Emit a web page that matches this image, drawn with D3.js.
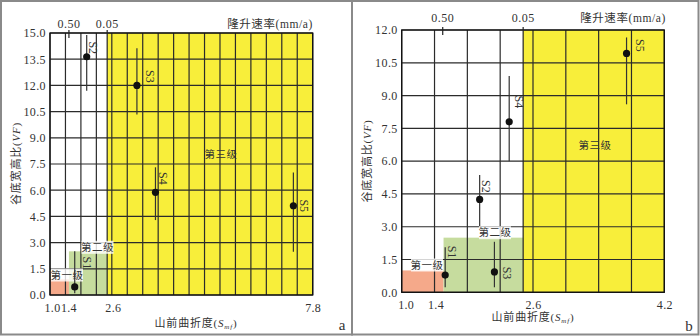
<!DOCTYPE html>
<html><head><meta charset="utf-8">
<script src="https://cdn.jsdelivr.net/npm/d3@7"></script>
<style>
html,body{margin:0;padding:0;background:#fff;}
svg{display:block;}
text{font-family:"Liberation Serif","Times New Roman","Noto Sans CJK SC",serif;fill:#333;}
.cjk{font-family:"Liberation Serif","Noto Sans CJK SC",serif;}
</style></head>
<body>
<script>
// ---------- DATA ----------
const sites = ["S1", "S2", "S3", "S4", "S5"];
const zoneNames = ["第一级", "第二级", "第三级"];
const upliftLabels = ["0.50", "0.05"];

// panel a
const xTicksA = [1.0, 1.4, 2.6, 7.8];
const yTicksA = [0, 1.5, 3.0, 4.5, 6.0, 7.5, 9.0, 10.5, 12.0, 13.5, 15.0];
const smfA = [1.64, 1.95, 3.25, 3.73, 7.30];
const vfA = [0.46, 13.64, 12.0, 5.88, 5.11];
const vfLowA = [0.1, 11.7, 10.34, 4.29, 2.48];
const vfHighA = [2.5, 14.88, 14.12, 7.31, 7.02];
const upliftSmfA = [1.49, 2.48];
const zoneSmfA = [[1.0, 1.49], [1.49, 2.48], [2.48, 7.8]];
const zoneVfA = [0.9, 2.5, 15.0];

// panel b
const xTicksB = [1.0, 1.4, 2.6, 4.2];
const yTicksB = [0, 1.5, 3.0, 4.5, 6.0, 7.5, 9.0, 10.5, 12.0];
const smfB = [1.53, 1.95, 2.13, 2.31, 3.74];
const vfB = [0.79, 4.25, 0.93, 7.80, 10.93];
const vfLowB = [0.23, 3.03, 0.23, 6.0, 8.6];
const vfHighB = [2.06, 5.37, 2.31, 9.9, 11.66];
const upliftSmfB = [1.50, 2.48];
const zoneSmfB = [[1.0, 1.51], [1.51, 2.48], [2.48, 4.2]];
const zoneVfB = [1.0, 2.5, 12.0];

// ---------- STYLE / LAYOUT ----------
const zoneColors = ["#f5a98a", "#c6dc9e", "#f8ee3a"];
const layoutA = {x0: 50, x1: 312.7, y0: 295, y1: 33, gridStep: 0.4, yGrid: 1.5,
  labelOff: [[12, -24], [7, -9], [13, -9], [8, -14], [11, 0]],
  tickDx: [2, 3, 1, 0],
  zoneLabelPos: [[67, 275], [97.5, 247.3], [221, 154]],
  titleTop: [313, 28], axTitleY: [16, 163.5], axTitleX: [196, 327], topY: 28, letter: [342, 330, "a"]};
const layoutB = {x0: 401.7, x1: 664.3, y0: 292.3, y1: 30, gridStep: 0.4, yGrid: 1.5,
  labelOff: [[7, -23], [7, -13], [13, 1], [10, -20], [14, -8]],
  tickDx: [4, 1, 0, 0],
  zoneLabelPos: [[427, 265], [495, 232.7], [595, 145]],
  titleTop: [666, 22], axTitleY: [367, 161], axTitleX: [533, 321], topY: 22, letter: [689, 331, "b"]};

const svg = d3.select("body").append("svg").attr("width", 700).attr("height", 336);

// outer frames
svg.append("rect").attr("x", 1).attr("y", 1).attr("width", 351).attr("height", 333.5)
  .attr("fill", "none").attr("stroke", "#8a8a8a").attr("stroke-width", 2);
svg.append("rect").attr("x", 352).attr("y", 1).attr("width", 346.5).attr("height", 333.5)
  .attr("fill", "none").attr("stroke", "#8a8a8a").attr("stroke-width", 2);

function drawPanel(L, xDom, yDom, xTicks, yTicks, smf, vf, lo, hi, upl, zSmf, zVf) {
  const x = d3.scaleLinear().domain(xDom).range([L.x0, L.x1]);
  const y = d3.scaleLinear().domain(yDom).range([L.y0, L.y1]);
  const g = svg.append("g");

  // zones
  g.selectAll("rect.zone").data(zoneNames).join("rect").attr("class", "zone")
    .attr("x", (d, i) => x(zSmf[i][0]))
    .attr("width", (d, i) => x(zSmf[i][1]) - x(zSmf[i][0]))
    .attr("y", (d, i) => y(zVf[i]))
    .attr("height", (d, i) => y(0) - y(zVf[i]))
    .attr("fill", (d, i) => zoneColors[i]);

  // grid
  const gx = d3.range(xDom[0], xDom[1] + 1e-6, L.gridStep);
  const gy = d3.range(yDom[0], yDom[1] + 1e-6, L.yGrid);
  g.selectAll("line.gx").data(gx).join("line")
    .attr("x1", d => x(d)).attr("x2", d => x(d)).attr("y1", y(yDom[0])).attr("y2", y(yDom[1]))
    .attr("stroke", "#2b2b2b").attr("stroke-width", 1.2);
  g.selectAll("line.gy").data(gy).join("line")
    .attr("y1", d => y(d)).attr("y2", d => y(d)).attr("x1", x(xDom[0])).attr("x2", x(xDom[1]))
    .attr("stroke", "#2b2b2b").attr("stroke-width", 1.2);

  // plot border
  g.append("rect").attr("x", x(xDom[0])).attr("y", y(yDom[1]))
    .attr("width", x(xDom[1]) - x(xDom[0])).attr("height", y(yDom[0]) - y(yDom[1]))
    .attr("fill", "none").attr("stroke", "#111").attr("stroke-width", 1.3);

  // uplift rate top ticks
  g.selectAll("line.up").data(upl).join("line")
    .attr("x1", d => x(d)).attr("x2", d => x(d))
    .attr("y1", y(yDom[1]) - 3).attr("y2", (d, i) => i === upl.length - 1 ? y(0) : y(yDom[1]) + 5)
    .attr("stroke", "#222").attr("stroke-width", 1.2);
  g.selectAll("text.up").data(upl).join("text")
    .attr("x", d => x(d)).attr("y", L.topY).attr("text-anchor", "middle")
    .attr("font-size", 12).attr("letter-spacing", 0.5).text((d, i) => upliftLabels[i]);
  g.append("text").attr("class", "cjk").attr("x", L.titleTop[0]).attr("y", L.titleTop[1])
    .attr("text-anchor", "end").attr("font-size", 11.5).attr("letter-spacing", 0.6).text("隆升速率(mm/a)");

  // y axis
  const ya = d3.axisLeft(y).tickValues(yTicks).tickSize(0).tickPadding(4).tickFormat(d3.format(".1f"));
  const yg = g.append("g").attr("transform", `translate(${x(xDom[0])},0)`).call(ya);
  yg.select(".domain").remove();
  yg.selectAll("text").attr("font-size", 12).attr("fill", "#333").attr("letter-spacing", 0.4)
    .attr("font-family", "Liberation Serif, serif");

  // x axis
  const xa = d3.axisBottom(x).tickValues(xTicks).tickSize(0).tickPadding(8).tickFormat(d3.format(".1f"));
  const xg = g.append("g").attr("transform", `translate(0,${y(0)})`).call(xa);
  xg.select(".domain").remove();
  xg.selectAll("text").attr("font-size", 12).attr("fill", "#333").attr("letter-spacing", 0.3)
    .attr("font-family", "Liberation Serif, serif")
    .attr("dx", (d, i) => L.tickDx[i]);

  // axis titles
  const ty = g.append("text").attr("class", "cjk").attr("font-size", 11).attr("letter-spacing", 0.8)
    .attr("text-anchor", "middle").attr("fill", "#444")
    .attr("transform", `translate(${L.axTitleY[0]},${L.axTitleY[1]}) rotate(-90)`)
    .attr("dy", "0.35em");
  ty.append("tspan").text("谷底宽高比(");
  ty.append("tspan").attr("font-style", "italic").text("VF");
  ty.append("tspan").text(")");

  const tx = g.append("text").attr("class", "cjk").attr("font-size", 11).attr("letter-spacing", 0.8)
    .attr("text-anchor", "middle").attr("fill", "#444").attr("x", L.axTitleX[0]).attr("y", L.axTitleX[1]);
  tx.append("tspan").text("山前曲折度(");
  tx.append("tspan").attr("font-style", "italic").text("S");
  tx.append("tspan").attr("font-style", "italic").attr("font-size", 7).attr("dy", 2).text("mf");
  tx.append("tspan").attr("dy", -2).text(")");

  // zone labels
  zoneNames.forEach((name, i) => {
    const p = L.zoneLabelPos[i];
    if (i < 2) {
      g.append("rect").attr("x", p[0] - 16).attr("y", p[1] - 6.5).attr("width", 32).attr("height", 13)
        .attr("fill", "#fff").attr("opacity", 0.8);
    }
    g.append("text").attr("class", "cjk").attr("x", p[0]).attr("y", p[1]).attr("dy", "0.36em")
      .attr("text-anchor", "middle").attr("font-size", 10.5).attr("letter-spacing", 0.5)
      .attr("fill", "#555").text(name);
  });

  // error bars
  g.selectAll("line.err").data(sites).join("line")
    .attr("x1", (d, i) => x(smf[i])).attr("x2", (d, i) => x(smf[i]))
    .attr("y1", (d, i) => y(lo[i])).attr("y2", (d, i) => y(hi[i]))
    .attr("stroke", "#333").attr("stroke-width", 1.2);
  // points
  g.selectAll("circle.pt").data(sites).join("circle")
    .attr("cx", (d, i) => x(smf[i])).attr("cy", (d, i) => y(vf[i])).attr("r", 3.6)
    .attr("fill", "#111");
  // site labels
  g.selectAll("text.site").data(sites).join("text")
    .attr("transform", (d, i) => `translate(${x(smf[i]) + L.labelOff[i][0]},${y(vf[i]) + L.labelOff[i][1]}) rotate(90)`)
    .attr("text-anchor", "middle").attr("dy", "0.35em")
    .attr("font-size", 12).attr("fill", "#222").text(d => d);

  // panel letter
  g.append("text").attr("x", L.letter[0]).attr("y", L.letter[1]).attr("text-anchor", "middle")
    .attr("font-size", 15).attr("fill", "#222").text(L.letter[2]);
}

drawPanel(layoutA, [1.0, 7.8], [0, 15], xTicksA, yTicksA, smfA, vfA, vfLowA, vfHighA, upliftSmfA, zoneSmfA, zoneVfA);
drawPanel(layoutB, [1.0, 4.2], [0, 12], xTicksB, yTicksB, smfB, vfB, vfLowB, vfHighB, upliftSmfB, zoneSmfB, zoneVfB);
</script>
</body></html>
